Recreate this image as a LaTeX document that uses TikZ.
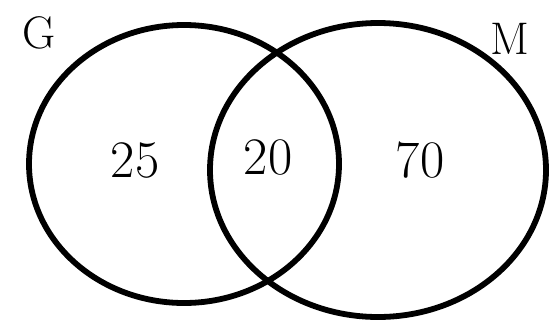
\documentclass[tikz,border=0pt]{standalone}
\usepackage{tikz}

\tikzset{
  setline/.style={line width=3.3pt, black},
  countlabel/.style={font=\fontsize{30}{30}\selectfont},
  setlabel/.style={font=\fontsize{26}{26}\selectfont}
}

\begin{document}
\begin{tikzpicture}
  \useasboundingbox (0,0) rectangle (10.98,6.4);
  % Set G
  \draw[setline] (3.68,3.12) ellipse (3.1 and 2.78);
  \node[setlabel] (labG) at (0.78,5.74) {G};
  % Set M
  \draw[setline] (7.56,3.0) ellipse (3.36 and 2.94);
  \node[setlabel] (labM) at (10.2,5.62) {M};
  % Counts
  \node[countlabel] (onlyG) at (2.7,3.2) {25};
  \node[countlabel] (both) at (5.36,3.26) {20};
  \node[countlabel] (onlyM) at (8.4,3.2) {70};
\end{tikzpicture}
\end{document}
